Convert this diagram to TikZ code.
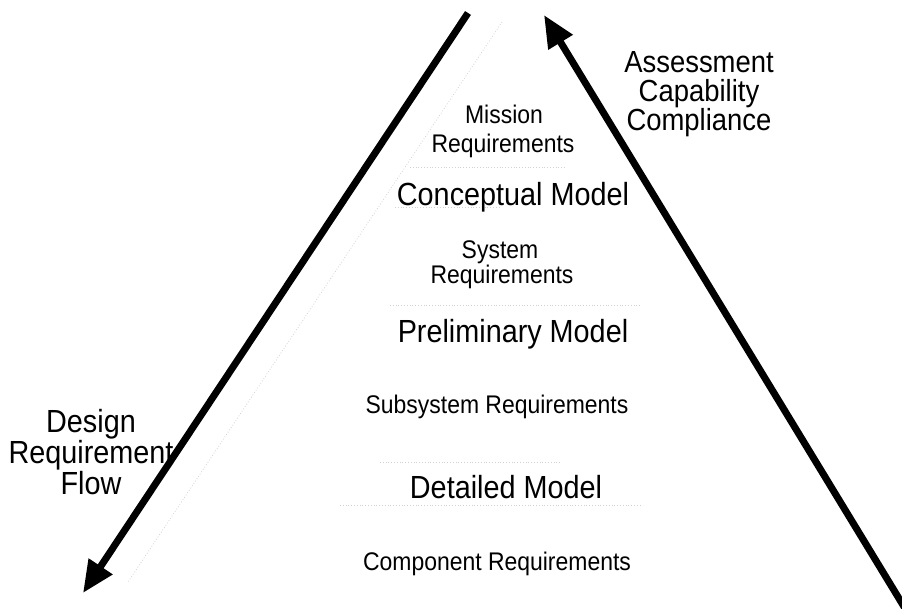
\documentclass[tikz,border=0pt]{standalone}
\usepackage{fontspec}
\setmainfont[FakeStretch=0.9]{Liberation Sans}
\usetikzlibrary{arrows.meta}
\begin{document}
\begin{tikzpicture}[x=1pt,y=-1pt,
  bigarrow/.style={line width=7pt,-{Triangle[length=32pt,width=27pt]}},
  faint/.style={gray!35,line width=0.8pt,dotted},
  reqlabel/.style={inner sep=0pt,anchor=base,font=\fontsize{25.5}{29}\selectfont},
  modellabel/.style={inner sep=0pt,anchor=base,font=\fontsize{32}{36}\selectfont},
  sidelabel/.style={inner sep=0pt,anchor=base,align=center,font=\fontsize{30.5}{29}\selectfont},
  leftlabel/.style={inner sep=0pt,anchor=base,align=center,font=\fontsize{32}{28.5}\selectfont}]
\useasboundingbox (0,0) rectangle (902,608);
% faint pyramid traces
\coordinate (ftop) at (502,22);
\coordinate (fbot) at (128,582);
\draw[faint] (ftop) -- (fbot);
\coordinate (h1a) at (410,167); \coordinate (h1b) at (565,167);
\coordinate (h2a) at (395,207); \coordinate (h2b) at (500,207);
\coordinate (h3a) at (390,305); \coordinate (h3b) at (640,305);
\coordinate (h4a) at (380,462); \coordinate (h4b) at (560,462);
\coordinate (h5a) at (340,505); \coordinate (h5b) at (640,505);
\draw[faint] (h1a) -- (h1b);
\draw[faint] (h2a) -- (h2b);
\draw[faint] (h3a) -- (h3b);
\draw[faint] (h4a) -- (h4b);
\draw[faint] (h5a) -- (h5b);
% arrows
\coordinate (ltop) at (468,13);
\coordinate (ltip) at (83,593);
\coordinate (rtail) at (906,610);
\coordinate (rtip) at (544,15);
\draw[bigarrow] (ltop) -- (ltip);
\draw[bigarrow] (rtail) -- (rtip);
% center labels
\node[reqlabel] (mission1) at (504,123) {Mission};
\node[reqlabel] (mission2) at (503,152) {Requirements};
\node[modellabel] (concept) at (513,205) {Conceptual Model};
\node[reqlabel] (system1) at (500,258) {System};
\node[reqlabel] (system2) at (502,283) {Requirements};
\node[modellabel] (prelim) at (513,342) {Preliminary Model};
\node[reqlabel] (subsys) at (497,413) {Subsystem Requirements};
\node[modellabel] (detail) at (506,498) {Detailed Model};
\node[reqlabel] (comp) at (497,570) {Component Requirements};
% side labels
\node[sidelabel] (assess) at (699,130) {Assessment\\Capability\\Compliance};
\node[leftlabel] (design) at (91,494) {Design\\Requirement\\Flow};
\end{tikzpicture}
\end{document}
